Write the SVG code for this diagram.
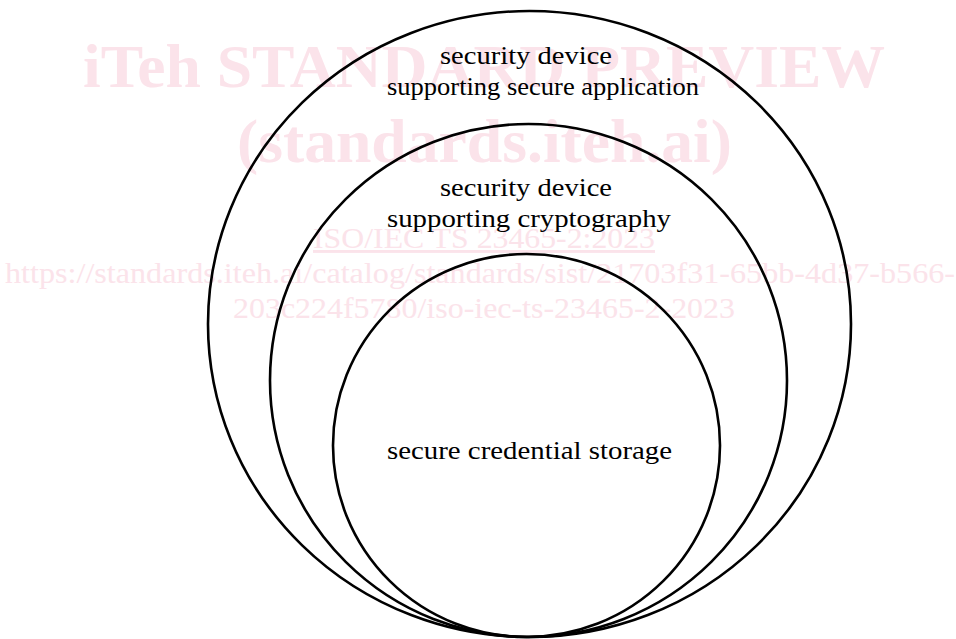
<svg xmlns="http://www.w3.org/2000/svg" width="956" height="639" viewBox="0 0 956 639">
<style>
.wm{fill:#fbe3ea;font-family:"Liberation Serif",serif;text-anchor:middle}
.big{font-size:62px;font-weight:bold}
.sm{font-size:29px}
.ring{fill:none;stroke:#000;stroke-width:2.6}
.lbl{font-family:"Liberation Serif","DejaVu Serif",serif;font-size:26px;fill:#000;text-anchor:middle}
</style>
<rect width="956" height="639" fill="#fff"/>
<g id="watermark">
<text class="wm big" x="484" y="87" textLength="802" lengthAdjust="spacingAndGlyphs">iTeh STANDARD PREVIEW</text>
<text class="wm big" x="484.5" y="162" textLength="495" lengthAdjust="spacingAndGlyphs">(standards.iteh.ai)</text>
<text class="wm sm" x="484" y="248" textLength="342" lengthAdjust="spacingAndGlyphs" text-decoration="underline">ISO/IEC TS 23465-2:2023</text>
<text class="wm sm" x="480" y="283" textLength="950" lengthAdjust="spacingAndGlyphs">https://standards.iteh.ai/catalog/standards/sist/21703f31-65bb-4d37-b566-</text>
<text class="wm sm" x="484" y="318" textLength="502" lengthAdjust="spacingAndGlyphs">203c224f5780/iso-iec-ts-23465-2-2023</text>
</g>
<g id="outer">
<ellipse class="ring" cx="529.5" cy="324" rx="321.5" ry="313"/>
<text class="lbl" x="526" y="64" textLength="172" lengthAdjust="spacingAndGlyphs">security device</text>
<text class="lbl" x="543" y="95" textLength="312" lengthAdjust="spacingAndGlyphs">supporting secure application</text>
</g>
<g id="middle">
<ellipse class="ring" cx="528.5" cy="380.5" rx="258.5" ry="256.5"/>
<text class="lbl" x="526" y="196" textLength="172" lengthAdjust="spacingAndGlyphs">security device</text>
<text class="lbl" x="529" y="227" textLength="284" lengthAdjust="spacingAndGlyphs">supporting cryptography</text>
</g>
<g id="inner">
<ellipse class="ring" cx="526.5" cy="445.5" rx="193.5" ry="191.5"/>
<text class="lbl" x="529.5" y="459" textLength="285" lengthAdjust="spacingAndGlyphs">secure credential storage</text>
</g>
<g id="connectors"/>
</svg>
